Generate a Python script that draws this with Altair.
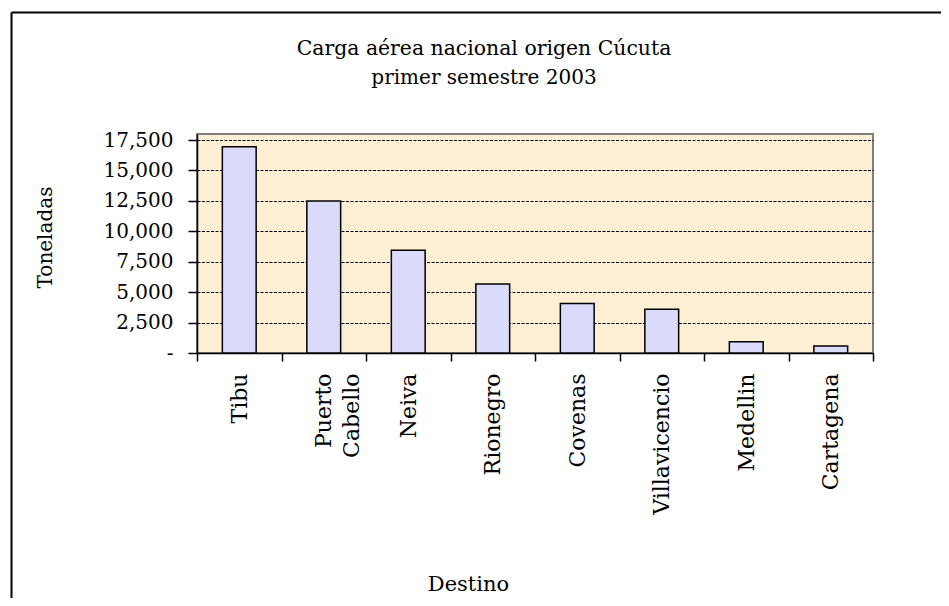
import altair as alt
import pandas as pd

# ---- data ----
destinos = ["Tibu", "Puerto Cabello", "Neiva", "Rionegro", "Covenas",
            "Villavicencio", "Medellin", "Cartagena"]
toneladas = [16950, 12500, 8440, 5670, 4070, 3590, 930, 580]
y_ticks = [0, 2500, 5000, 7500, 10000, 12500, 15000, 17500]
titulo = ["Carga aérea nacional origen Cúcuta", "primer semestre 2003"]

df = pd.DataFrame({"Destino": destinos, "Toneladas": toneladas})

FONT = "DejaVu Serif"
W, H = 676, 219
PAD = {"left": 189, "top": 126, "right": 68, "bottom": 245}

NB = "\u00a0"
y_label_expr = "datum.value == 0 ? '-" + NB * 4 + "' : format(datum.value, ',')"

bars = alt.Chart(df).mark_bar(
    width=alt.RelativeBandSize(0.4),
    fill="#dadafa",
    stroke="black",
    strokeWidth=1.5,
).encode(
    x=alt.X(
        "Destino:N",
        sort=destinos,
        scale=alt.Scale(paddingInner=0, paddingOuter=0),
        axis=alt.Axis(
            title="Destino",
            labelAngle=-90,
            labelAlign="right",
            labelBaseline="middle",
            labelFontSize=22,
            labelPadding=12,
            labelLineHeight=28,
            labelOverlap=False,
            labelExpr="datum.label == 'Puerto Cabello' ? ['Puerto', 'Cabello'] : datum.label",
            tickBand="extent",
            tickSize=8,
            tickWidth=1.5,
            domainWidth=1.5,
            grid=False,
            titleFontSize=21,
            titleX=271,
            titleY=237,
            titleAlign="center",
            titleBaseline="alphabetic",
        ),
    ),
    y=alt.Y(
        "Toneladas:Q",
        scale=alt.Scale(domain=[0, 18000], nice=False),
        axis=alt.Axis(
            title="Toneladas",
            values=y_ticks,
            labelExpr=y_label_expr,
            labelFontSize=20,
            labelPadding=15,
            tickSize=9,
            tickWidth=1.5,
            domainWidth=1.5,
            grid=True,
            gridColor="black",
            gridDash=[3, 1.5],
            gridWidth=1,
            titleFontSize=20,
            titleAngle=-90,
            titleX=-146,
            titleY=103,
            titleAlign="center",
            titleBaseline="alphabetic",
        ),
    ),
)

one = alt.Data(values=[{}])

title1 = alt.Chart(one).mark_text(
    font=FONT, fontSize=20.4, align="center", baseline="alphabetic", color="black"
).encode(text=alt.value(titulo[0]), x=alt.value(287), y=alt.value(-79))

title2 = alt.Chart(one).mark_text(
    font=FONT, fontSize=20, align="center", baseline="alphabetic", color="black"
).encode(text=alt.value(titulo[1]), x=alt.value(287), y=alt.value(-50))

frame_left = alt.Chart(one).mark_rule(color="black", strokeWidth=2).encode(
    x=alt.value(-185.5), y=alt.value(-121.5), y2=alt.value(480)
)
frame_top = alt.Chart(one).mark_rule(color="black", strokeWidth=2).encode(
    x=alt.value(-185.5), x2=alt.value(760), y=alt.value(-121.5)
)

chart = alt.layer(bars, title1, title2, frame_left, frame_top).properties(
    width=W,
    height=H,
    padding=PAD,
    autosize=alt.AutoSizeParams(type="none"),
    background="white",
).configure_view(
    fill="#fcefd4", stroke="#808080", strokeWidth=2
).configure_axis(
    labelFont=FONT,
    titleFont=FONT,
    labelColor="black",
    titleColor="black",
    domainColor="black",
    tickColor="black",
    titleFontWeight="normal",
)

chart.save("out.html", embed_options={"renderer": "svg", "actions": False})
